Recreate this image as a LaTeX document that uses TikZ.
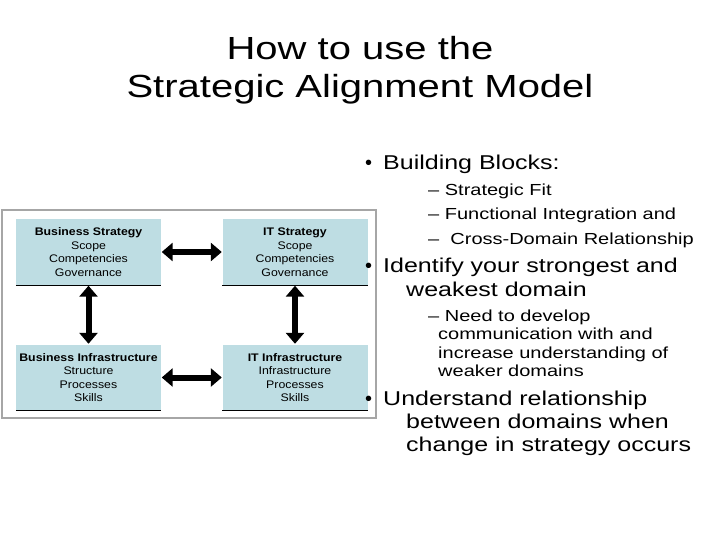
\documentclass[tikz,border=0pt]{standalone}
\usepackage{fontspec}
\setmainfont{Liberation Sans}
\usetikzlibrary{arrows.meta}
\definecolor{boxblue}{HTML}{BEDDE3}
\newcommand{\wid}[1]{\scalebox{1.25}[1]{#1}}
\newcommand{\bwid}[1]{\scalebox{1.12}[1]{#1}}
\tikzset{
 blk/.style={fill=boxblue,draw=none,minimum width=145pt,minimum height=66pt,inner sep=0pt,align=center,font=\fontsize{11}{13.5}\selectfont},
 dbl/.style={line width=6pt,{Triangle[length=11pt,width=18pt]}-{Triangle[length=11pt,width=18pt]},shorten <=0.5pt,shorten >=0.5pt},
 big/.style={anchor=base west,inner sep=0pt,font=\fontsize{20}{22}\selectfont},
 small/.style={anchor=base west,inner sep=0pt,font=\fontsize{16}{18}\selectfont},
}
\begin{document}
\begin{tikzpicture}[x=1pt,y=-1pt]
\useasboundingbox (0,0) rectangle (720,540);
\node[font=\fontsize{32}{38}\selectfont,align=center] (title) at (360,70) {\wid{How to use the}\\\wid{Strategic Alignment Model}};
\draw[gray!70,line width=1.2pt,fill=white] (2,210) rectangle (376,418);
\node[blk] (bs) at (88.5,252) {\bwid{\textbf{Business Strategy}}\\\bwid{Scope}\\\bwid{Competencies}\\\bwid{Governance}};
\node[blk] (its) at (295,252) {\bwid{\textbf{IT Strategy}}\\\bwid{Scope}\\\bwid{Competencies}\\\bwid{Governance}};
\node[blk] (bi) at (88.5,377.5) {\bwid{\textbf{Business Infrastructure}}\\\bwid{Structure}\\\bwid{Processes}\\\bwid{Skills}};
\node[blk] (iti) at (295,377.5) {\bwid{\textbf{IT Infrastructure}}\\\bwid{Infrastructure}\\\bwid{Processes}\\\bwid{Skills}};
\foreach \n in {bs,its,bi,iti}{\draw[line width=0.8pt] (\n.south west) -- (\n.south east);}
\draw[dbl] (bs.east) -- (its.west);
\draw[dbl] (bi.east) -- (iti.west);
\draw[dbl] (bs.south) -- (bi.north);
\draw[dbl] (its.south) -- (iti.north);
\node[big] (b1d) at (365,170) {•};
\node[big] (b1) at (383,170) {\wid{Building Blocks:}};
\node[small] (s1) at (428,196) {\wid{– Strategic Fit}};
\node[small] (s2) at (428,220) {\wid{– Functional Integration and}};
\node[small] (s3) at (428,244) {\wid{–\ \ Cross-Domain Relationship}};
\node[big] (b2d) at (365,272) {•};
\node[big] (b2) at (383,272) {\wid{Identify your strongest and}};
\node[big] (b2b) at (406,296) {\wid{weakest domain}};
\node[small] (s4) at (428,321) {\wid{– Need to develop}};
\node[small] (s4b) at (438,339) {\wid{communication with and}};
\node[small] (s4c) at (438,358) {\wid{increase understanding of}};
\node[small] (s4d) at (438,376) {\wid{weaker domains}};
\node[big] (b3d) at (365,405) {•};
\node[big] (b3) at (383,405) {\wid{Understand relationship}};
\node[big] (b3b) at (406,428) {\wid{between domains when}};
\node[big] (b3c) at (406,451) {\wid{change in strategy occurs}};
\end{tikzpicture}
\end{document}
